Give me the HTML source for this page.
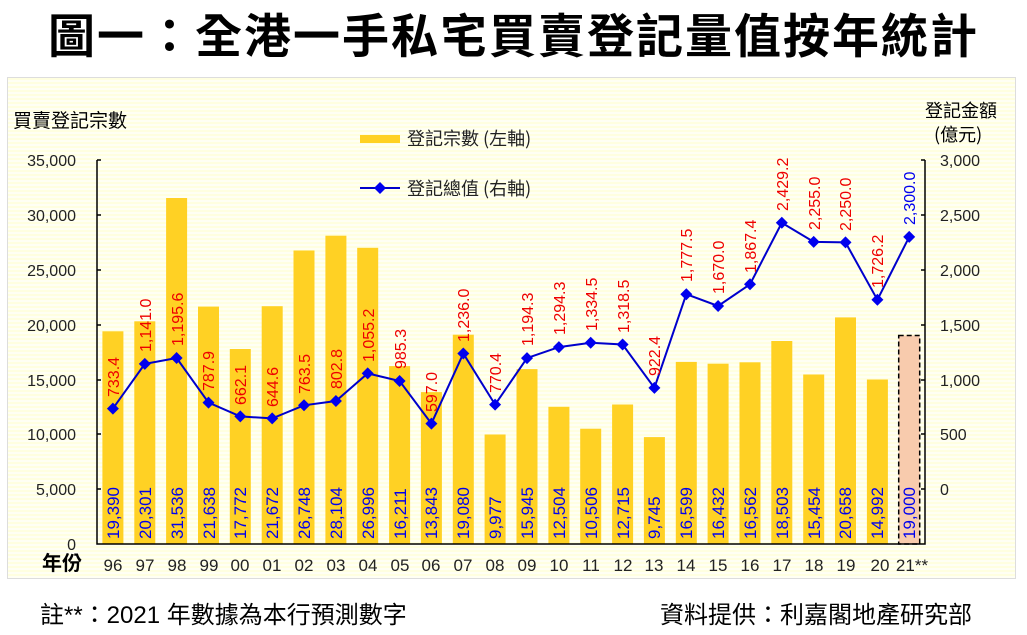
<!DOCTYPE html>
<html><head><meta charset="utf-8"><style>
body{margin:0;width:1027px;height:635px;background:#fff;overflow:hidden;font-family:"Liberation Sans","Noto Sans CJK TC",sans-serif;}
.t{position:absolute;left:0;top:0px;width:1027px;text-align:center;font-size:47px;font-weight:bold;font-family:"Noto Sans CJK TC","WenQuanYi Zen Hei",sans-serif;color:#000;letter-spacing:2px;line-height:66px}
.bg{position:absolute;left:7px;top:77px;width:1007px;height:500px;border:1px solid #ddd;background:repeating-linear-gradient(to bottom,#ffffe0 0px,#ffffe0 2px,#fffff4 2px,#fffff4 4px)}
</style></head><body>
<div class="t">圖一：全港一手私宅買賣登記量值按年統計</div>
<div class="bg"></div>
<svg width="1027" height="635" style="position:absolute;left:0;top:0" font-family="Liberation Sans, Noto Sans CJK TC, sans-serif">
<g fill="#000" font-family="Noto Sans CJK TC, sans-serif">
<text x="13" y="127" font-size="19">買賣登記宗數</text>
<text x="925" y="117" font-size="18">登記金額</text>
<text x="934" y="141" font-size="18">(億元)</text>
<text x="42" y="570" font-size="20" font-weight="bold">年份</text>
</g>
<g font-size="16" fill="#222" text-anchor="end">
<text x="76" y="166">35,000</text><text x="76" y="221">30,000</text><text x="76" y="276">25,000</text><text x="76" y="331">20,000</text><text x="76" y="386">15,000</text><text x="76" y="440">10,000</text><text x="76" y="495">5,000</text><text x="76" y="550">0</text>
</g>
<g font-size="16" fill="#222">
<text x="940" y="166">3,000</text><text x="940" y="221">2,500</text><text x="940" y="276">2,000</text><text x="940" y="331">1,500</text><text x="940" y="386">1,000</text><text x="940" y="440">500</text><text x="940" y="495">0</text>
</g>
<g fill="#FFD124">
<rect x="102.4" y="331.3" width="21" height="212.7"/><rect x="134.3" y="321.3" width="21" height="222.7"/><rect x="166.1" y="198" width="21" height="346"/><rect x="198" y="306.6" width="21" height="237.4"/><rect x="229.8" y="349" width="21" height="195"/><rect x="261.7" y="306.2" width="21" height="237.8"/><rect x="293.5" y="250.5" width="21" height="293.5"/><rect x="325.4" y="235.7" width="21" height="308.3"/><rect x="357.2" y="247.8" width="21" height="296.2"/><rect x="389.1" y="366.1" width="21" height="177.9"/><rect x="420.9" y="392.1" width="21" height="151.9"/><rect x="452.8" y="334.7" width="21" height="209.3"/><rect x="484.6" y="434.5" width="21" height="109.5"/><rect x="516.5" y="369.1" width="21" height="174.9"/><rect x="548.4" y="406.8" width="21" height="137.2"/><rect x="580.2" y="428.7" width="21" height="115.3"/><rect x="612.1" y="404.5" width="21" height="139.5"/><rect x="643.9" y="437.1" width="21" height="106.9"/><rect x="675.8" y="361.9" width="21" height="182.1"/><rect x="707.6" y="363.7" width="21" height="180.3"/><rect x="739.5" y="362.3" width="21" height="181.7"/><rect x="771.3" y="341" width="21" height="203"/><rect x="803.2" y="374.5" width="21" height="169.5"/><rect x="835" y="317.4" width="21" height="226.6"/><rect x="866.9" y="379.5" width="21" height="164.5"/>
</g>
<rect x="898.7" y="335.5" width="21" height="208.5" fill="#F8CBAD" stroke="#000" stroke-width="1.5" stroke-dasharray="5,3"/>
<g stroke="#000" stroke-width="1.5" fill="none">
<path d="M97 160V544H925V160"/>
<path d="M97 160h4M97 215h4M97 270h4M97 325h4M97 380h4M97 434h4M97 489h4"/>
<path d="M925 160h-4M925 215h-4M925 270h-4M925 325h-4M925 380h-4M925 434h-4M925 489h-4"/>
</g>
<rect x="360" y="135" width="40" height="8" fill="#FFD124"/>
<text x="407" y="145" font-size="18" fill="#222" font-family="Noto Sans CJK TC, sans-serif">登記宗數 (左軸)</text>
<path d="M360 188H400" stroke="#0000CC" stroke-width="2"/><path d="M380 182l6 6-6 6-6-6z" fill="#0000EE"/>
<text x="407" y="195" font-size="18" fill="#222" font-family="Noto Sans CJK TC, sans-serif">登記總值 (右軸)</text>
<polyline fill="none" stroke="#0000CC" stroke-width="2" points="112.9,408.6 144.8,363.9 176.6,358 208.5,402.6 240.3,416.4 272.2,418.4 304,405.3 335.9,401 367.7,373.4 399.6,381 431.4,423.6 463.3,353.5 495.1,404.6 527,358.1 558.9,347.1 590.7,342.7 622.6,344.5 654.4,387.9 686.3,294.2 718.1,306 750,284.3 781.8,222.8 813.7,241.9 845.5,242.4 877.4,299.8 909.2,236.9"/>
<g fill="#0000EE">
<path d="M112.9 402.6l6 6-6 6-6-6z"/><path d="M144.8 357.9l6 6-6 6-6-6z"/><path d="M176.6 352l6 6-6 6-6-6z"/><path d="M208.5 396.6l6 6-6 6-6-6z"/><path d="M240.3 410.4l6 6-6 6-6-6z"/><path d="M272.2 412.4l6 6-6 6-6-6z"/><path d="M304 399.3l6 6-6 6-6-6z"/><path d="M335.9 395l6 6-6 6-6-6z"/><path d="M367.7 367.4l6 6-6 6-6-6z"/><path d="M399.6 375l6 6-6 6-6-6z"/><path d="M431.4 417.6l6 6-6 6-6-6z"/><path d="M463.3 347.5l6 6-6 6-6-6z"/><path d="M495.1 398.6l6 6-6 6-6-6z"/><path d="M527 352.1l6 6-6 6-6-6z"/><path d="M558.9 341.1l6 6-6 6-6-6z"/><path d="M590.7 336.7l6 6-6 6-6-6z"/><path d="M622.6 338.5l6 6-6 6-6-6z"/><path d="M654.4 381.9l6 6-6 6-6-6z"/><path d="M686.3 288.2l6 6-6 6-6-6z"/><path d="M718.1 300l6 6-6 6-6-6z"/><path d="M750 278.3l6 6-6 6-6-6z"/><path d="M781.8 216.8l6 6-6 6-6-6z"/><path d="M813.7 235.9l6 6-6 6-6-6z"/><path d="M845.5 236.4l6 6-6 6-6-6z"/><path d="M877.4 293.8l6 6-6 6-6-6z"/><path d="M909.2 230.9l6 6-6 6-6-6z"/>
</g>
<g font-size="16" fill="#EE0000">
<text transform="translate(119,397) rotate(-90)">733.4</text>
<text transform="translate(151,352) rotate(-90)">1,141.0</text>
<text transform="translate(183,346) rotate(-90)">1,195.6</text>
<text transform="translate(214,391) rotate(-90)">787.9</text>
<text transform="translate(246,405) rotate(-90)">662.1</text>
<text transform="translate(278,407) rotate(-90)">644.6</text>
<text transform="translate(310,394) rotate(-90)">763.5</text>
<text transform="translate(342,389) rotate(-90)">802.8</text>
<text transform="translate(374,362) rotate(-90)">1,055.2</text>
<text transform="translate(406,369) rotate(-90)">985.3</text>
<text transform="translate(437,412) rotate(-90)">597.0</text>
<text transform="translate(469,342) rotate(-90)">1,236.0</text>
<text transform="translate(501,393) rotate(-90)">770.4</text>
<text transform="translate(533,346) rotate(-90)">1,194.3</text>
<text transform="translate(565,335) rotate(-90)">1,294.3</text>
<text transform="translate(597,331) rotate(-90)">1,334.5</text>
<text transform="translate(629,333) rotate(-90)">1,318.5</text>
<text transform="translate(660,376) rotate(-90)">922.4</text>
<text transform="translate(692,282) rotate(-90)">1,777.5</text>
<text transform="translate(724,294) rotate(-90)">1,670.0</text>
<text transform="translate(756,273) rotate(-90)">1,867.4</text>
<text transform="translate(788,211) rotate(-90)">2,429.2</text>
<text transform="translate(820,230) rotate(-90)">2,255.0</text>
<text transform="translate(851,231) rotate(-90)">2,250.0</text>
<text transform="translate(883,288) rotate(-90)">1,726.2</text>
<text transform="translate(915,225) rotate(-90)" fill="#0000EE">2,300.0</text>
</g>
<g font-size="17" fill="#0000EE">
<text transform="translate(119,539) rotate(-90)">19,390</text>
<text transform="translate(151,539) rotate(-90)">20,301</text>
<text transform="translate(183,539) rotate(-90)">31,536</text>
<text transform="translate(215,539) rotate(-90)">21,638</text>
<text transform="translate(246,539) rotate(-90)">17,772</text>
<text transform="translate(278,539) rotate(-90)">21,672</text>
<text transform="translate(310,539) rotate(-90)">26,748</text>
<text transform="translate(342,539) rotate(-90)">28,104</text>
<text transform="translate(374,539) rotate(-90)">26,996</text>
<text transform="translate(406,539) rotate(-90)">16,211</text>
<text transform="translate(437,539) rotate(-90)">13,843</text>
<text transform="translate(469,539) rotate(-90)">19,080</text>
<text transform="translate(501,539) rotate(-90)">9,977</text>
<text transform="translate(533,539) rotate(-90)">15,945</text>
<text transform="translate(565,539) rotate(-90)">12,504</text>
<text transform="translate(597,539) rotate(-90)">10,506</text>
<text transform="translate(629,539) rotate(-90)">12,715</text>
<text transform="translate(660,539) rotate(-90)">9,745</text>
<text transform="translate(692,539) rotate(-90)">16,599</text>
<text transform="translate(724,539) rotate(-90)">16,432</text>
<text transform="translate(756,539) rotate(-90)">16,562</text>
<text transform="translate(788,539) rotate(-90)">18,503</text>
<text transform="translate(820,539) rotate(-90)">15,454</text>
<text transform="translate(851,539) rotate(-90)">20,658</text>
<text transform="translate(883,539) rotate(-90)">14,992</text>
<text transform="translate(915,539) rotate(-90)">19,000</text>
</g>
<g font-size="17" fill="#222" text-anchor="middle">
<text x="113" y="571">96</text><text x="145" y="571">97</text><text x="177" y="571">98</text><text x="209" y="571">99</text><text x="240" y="571">00</text><text x="272" y="571">01</text><text x="304" y="571">02</text><text x="336" y="571">03</text><text x="368" y="571">04</text><text x="400" y="571">05</text><text x="431" y="571">06</text><text x="463" y="571">07</text><text x="495" y="571">08</text><text x="527" y="571">09</text><text x="559" y="571">10</text><text x="591" y="571">11</text><text x="623" y="571">12</text><text x="654" y="571">13</text><text x="686" y="571">14</text><text x="718" y="571">15</text><text x="750" y="571">16</text><text x="782" y="571">17</text><text x="814" y="571">18</text><text x="846" y="571">19</text><text x="880" y="571">20</text><text x="912" y="571">21**</text>
</g>
<g font-size="24" fill="#000" font-family="Liberation Sans, Noto Sans CJK TC, sans-serif">
<text x="40" y="623">註**：2021 年數據為本行預測數字</text>
<text x="660" y="623">資料提供：利嘉閣地產研究部</text>
</g>
</svg>
</body></html>
